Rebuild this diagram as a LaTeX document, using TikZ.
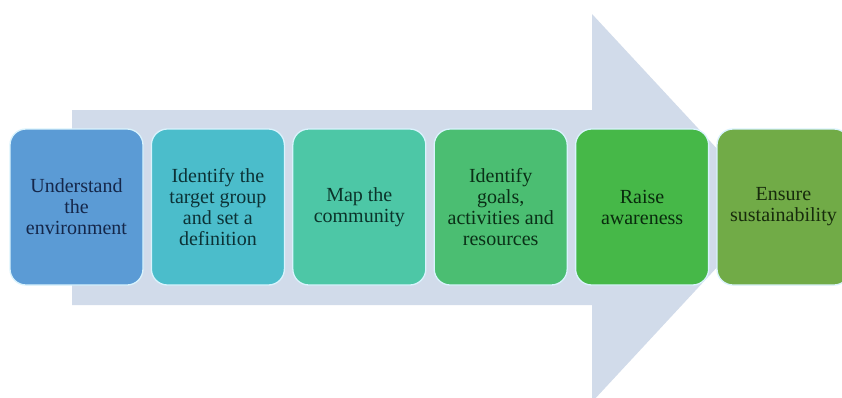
\documentclass[tikz,border=0pt]{standalone}
\usepackage{fontspec}
\setmainfont{Liberation Serif}
\definecolor{arrowc}{HTML}{D1DBEA}
\definecolor{cA}{HTML}{5B9BD5}
\definecolor{cB}{HTML}{4BBDCB}
\definecolor{cC}{HTML}{4DC7A6}
\definecolor{cD}{HTML}{4BBE72}
\definecolor{cE}{HTML}{46B848}
\definecolor{cF}{HTML}{71AB47}
\definecolor{tA}{HTML}{15274A}
\definecolor{tB}{HTML}{0C3236}
\definecolor{tC}{HTML}{0B332A}
\definecolor{tD}{HTML}{0A3017}
\definecolor{tE}{HTML}{092B0D}
\definecolor{tF}{HTML}{172B0C}
\begin{document}
\begin{tikzpicture}[x=1pt,y=-1pt,
  stepbox/.style={draw=white!85!cyan, line width=1.3pt, rounded corners=16pt,
    minimum width=133pt, minimum height=156pt, align=center, inner sep=2pt,
    font=\fontsize{20}{21}\selectfont},
  bigarrow/.style={fill=arrowc, draw=none}]
\useasboundingbox (0,0) rectangle (842,397);
\clip (0,0) rectangle (842,397);
\fill[white] (0,0) rectangle (842,397);
\fill[bigarrow] (72,110) -- (592,110) -- (592,14) -- (772,208) -- (592,402) -- (592,305) -- (72,305) -- cycle;
\node[stepbox, fill=cA, text=tA] (s1) at (76.5,207) {Understand\\the\\environment};
\node[stepbox, fill=cB, text=tB] (s2) at (217.9,207) {Identify the\\target group\\and set a\\definition};
\node[stepbox, fill=cC, text=tC] (s3) at (359.3,207) {Map the\\community};
\node[stepbox, fill=cD, text=tD] (s4) at (500.7,207) {Identify\\goals,\\activities and\\resources};
\node[stepbox, fill=cE, text=tE] (s5) at (642.1,207) {Raise\\awareness};
\node[stepbox, fill=cF, text=tF] (s6) at (783.5,207) {Ensure\\sustainability};
\end{tikzpicture}
\end{document}
